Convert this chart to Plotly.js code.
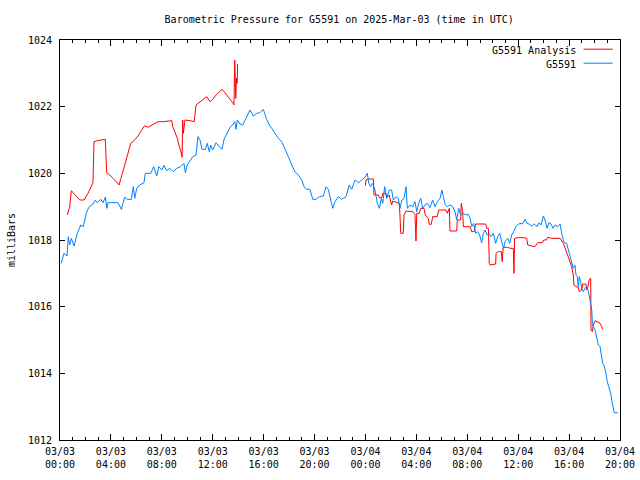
<!DOCTYPE html>
<html>
<head>
<meta charset="utf-8">
<script src="https://cdn.plot.ly/plotly-3.0.1.min.js"></script>
<style>html,body{margin:0;padding:0;background:#fff;}#chart{width:640px;height:480px;}</style>
</head>
<body>
<div id="chart"></div>
<script>
// Hours since 2025-03-03 00:00 UTC
const stationHours = [0.10,0.31,0.55,0.65,0.76,0.89,1.10,1.36,1.63,1.83,2.07,2.26,2.59,2.77,2.93,3.20,3.38,3.56,3.69,3.77,4.56,4.82,5.08,5.29,5.60,5.76,5.87,6.03,6.26,6.60,6.70,7.13,7.36,7.60,7.76,8.01,8.17,8.38,8.64,8.90,9.17,9.48,9.74,9.85,10.00,10.27,10.43,10.69,10.84,11.00,11.16,11.42,11.57,11.73,11.84,12.00,12.26,12.52,12.73,12.89,13.10,13.36,13.57,13.73,13.83,13.93,14.14,14.36,14.61,14.93,15.19,15.46,15.71,15.97,16.24,16.45,16.64,16.89,17.15,17.42,17.68,17.94,18.21,18.46,18.72,18.99,19.20,19.38,19.64,19.86,20.12,20.37,20.69,20.90,21.08,21.27,21.43,21.61,21.87,22.13,22.47,22.73,22.92,23.18,23.44,23.71,23.83,23.96,24.15,24.26,24.41,24.57,24.75,24.93,25.09,25.25,25.36,25.51,25.67,25.87,26.06,26.19,26.40,26.58,26.71,26.87,27.03,27.19,27.29,27.50,27.71,27.89,28.03,28.18,28.34,28.50,28.68,28.86,29.07,29.28,29.46,29.65,29.86,30.01,30.12,30.27,30.43,30.64,30.86,31.04,31.17,31.33,31.48,31.69,31.90,32.08,32.22,32.35,32.50,32.66,32.82,32.97,33.13,33.26,33.39,33.55,33.71,33.87,34.05,34.23,34.39,34.55,34.70,34.86,34.96,35.18,35.33,35.49,35.65,35.81,35.96,36.14,36.32,36.54,36.69,36.85,37.06,37.27,37.48,37.64,37.79,37.98,38.11,38.27,38.42,38.58,38.74,38.89,39.11,39.29,39.47,39.60,39.81,39.94,40.07,40.20,40.33,40.46,40.54,40.65,40.72,40.80,40.91,40.99,41.12,41.25,41.38,41.51,41.59,41.70,41.78,41.83,41.90,42.04,42.17,42.30,42.43,42.48,42.64,42.74,42.90,43.00,43.16,43.27,43.37,43.47,43.55,43.82];
const stationPressure = [1017.3,1017.6,1017.52,1018.1,1017.85,1018.05,1017.82,1018.2,1018.45,1018.4,1018.8,1018.98,1019.08,1019.2,1019.12,1019.22,1019.12,1019.28,1018.95,1019.12,1019.12,1018.92,1019.28,1019.22,1019.22,1019.6,1019.25,1019.55,1019.65,1019.72,1020.0,1020.0,1020.2,1019.92,1020.2,1020.1,1020.24,1020.08,1020.15,1020.05,1020.15,1020.2,1020.3,1020.02,1020.25,1020.4,1020.5,1020.55,1021.1,1021.0,1020.72,1020.72,1020.9,1020.65,1020.85,1020.7,1020.92,1020.8,1020.72,1021.02,1021.2,1021.38,1021.45,1021.55,1021.32,1021.6,1021.48,1021.45,1021.65,1021.9,1021.72,1021.8,1021.82,1021.92,1021.62,1021.45,1021.35,1021.2,1021.05,1020.95,1020.75,1020.5,1020.25,1020.05,1019.95,1019.8,1019.58,1019.52,1019.52,1019.22,1019.22,1019.3,1019.32,1019.6,1019.52,1019.25,1018.95,1019.15,1019.3,1019.22,1019.3,1019.65,1019.52,1019.8,1019.72,1019.8,1019.85,1019.88,1020.0,1019.7,1019.6,1019.7,1019.5,1019.1,1018.95,1019.25,1019.1,1019.6,1019.25,1019.5,1019.5,1019.2,1019.3,1019.25,1018.95,1019.2,1019.25,1019.6,1018.95,1019.05,1019.0,1019.15,1018.85,1019.1,1019.25,1018.95,1019.05,1019.1,1018.97,1019.2,1019.0,1019.15,1019.25,1019.5,1019.3,1019.05,1019.0,1019.05,1019.0,1018.85,1018.6,1018.95,1018.75,1018.8,1018.75,1018.77,1018.65,1018.4,1018.5,1018.2,1018.25,1018.15,1017.92,1018.2,1018.3,1018.15,1018.2,1018.1,1018.2,1017.9,1018.1,1018.2,1017.95,1017.75,1017.95,1018.05,1017.9,1018.15,1018.25,1018.4,1018.45,1018.5,1018.48,1018.62,1018.5,1018.48,1018.42,1018.48,1018.4,1018.52,1018.45,1018.72,1018.6,1018.35,1018.52,1018.48,1018.35,1018.45,1018.4,1018.48,1018.1,1017.92,1017.9,1017.7,1017.5,1017.3,1017.15,1017.25,1016.95,1016.9,1016.6,1016.9,1016.75,1016.55,1016.45,1016.55,1016.6,1016.48,1016.3,1016.15,1015.9,1015.5,1015.4,1015.3,1015.1,1014.85,1014.8,1014.65,1014.3,1014.25,1014.0,1013.75,1013.55,1013.4,1013.15,1013.0,1012.82,1012.82];

const analysisHours = [0.57,0.76,0.89,1.28,1.55,1.89,2.20,2.59,2.67,2.93,3.25,3.56,3.67,3.91,4.30,4.64,4.77,5.03,5.34,5.56,5.81,6.13,6.39,6.66,6.91,7.44,7.70,8.12,8.51,8.78,8.86,9.04,9.22,9.37,9.51,9.59,9.64,9.69,9.74,9.82,10.21,10.55,10.69,10.95,11.26,11.53,11.79,12.00,12.26,12.57,12.73,12.89,13.22,13.57,13.67,13.73,13.81,13.86,13.92,13.96,
  null,
  23.99,24.04,24.22,24.62,24.67,25.01,25.09,25.28,25.36,25.61,25.67,25.87,25.98,26.06,26.14,26.50,26.66,26.71,26.77,26.97,27.03,27.19,27.63,27.71,27.89,27.97,28.03,28.23,28.34,28.60,28.70,28.94,29.02,29.17,29.28,29.64,29.75,30.33,30.43,30.59,30.64,31.17,31.22,31.48,31.53,31.64,31.69,32.22,32.35,32.55,32.66,33.45,33.53,33.66,33.73,33.79,34.23,34.26,34.44,34.67,34.75,34.82,35.17,35.36,35.62,35.67,35.72,36.01,36.40,36.67,36.75,37.01,37.32,37.53,37.90,38.01,38.21,38.32,38.63,38.89,39.29,39.55,39.76,40.02,40.20,40.33,40.38,40.54,40.72,40.80,40.99,41.07,41.33,41.38,41.48,41.59,41.70,41.72,41.83,41.90,42.04,42.17,42.43,42.56,42.64];
const analysisPressure = [1018.75,1019.0,1019.48,1019.32,1019.2,1019.2,1019.4,1019.72,1020.95,1020.98,1021.0,1021.02,1020.02,1019.95,1019.8,1019.65,1019.82,1020.2,1020.6,1020.9,1020.98,1021.12,1021.28,1021.43,1021.38,1021.48,1021.55,1021.55,1021.58,1021.58,1021.4,1021.25,1021.05,1020.8,1020.65,1020.48,1021.6,1021.2,1021.38,1021.6,1021.58,1021.55,1022.05,1022.12,1022.2,1022.3,1022.15,1022.22,1022.35,1022.48,1022.52,1022.45,1022.3,1022.12,1022.05,1023.4,1022.25,1022.85,1022.7,1023.28,
  null,
  1019.63,1019.8,1019.83,1019.83,1019.35,1019.35,1019.27,1019.27,1019.4,1019.4,1019.27,1019.35,1019.17,1019.05,1019.17,1019.13,1019.1,1018.75,1018.2,1018.2,1018.75,1018.87,1018.87,1018.85,1018.77,1017.97,1018.8,1018.8,1018.95,1018.95,1018.75,1018.65,1018.47,1018.47,1018.7,1018.7,1018.9,1018.9,1018.8,1018.95,1018.27,1018.27,1018.6,1018.6,1019.1,1018.85,1018.4,1018.4,1018.25,1018.25,1018.48,1018.48,1018.35,1018.35,1017.3,1017.25,1017.28,1017.6,1017.65,1017.65,1017.35,1017.78,1017.78,1017.75,1017.75,1017.0,1018.05,1018.07,1018.07,1018.05,1017.85,1017.82,1017.8,1017.92,1017.92,1018.0,1018.0,1018.08,1018.05,1018.05,1018.05,1017.9,1017.7,1017.4,1017.2,1016.95,1016.65,1016.6,1016.58,1016.45,1016.5,1016.68,1016.68,1016.5,1016.6,1016.82,1016.85,1015.3,1015.25,1015.45,1015.58,1015.55,1015.5,1015.4,1015.32];

const tickHours = [0,4,8,12,16,20,24,28,32,36,40,44];
const tickDates = ['03/03','03/03','03/03','03/03','03/03','03/03','03/04','03/04','03/04','03/04','03/04','03/04'];
const tickTimes = ['00:00','04:00','08:00','12:00','16:00','20:00','00:00','04:00','08:00','12:00','16:00','20:00'];
const yTicks = [1012,1014,1016,1018,1020,1022,1024];
const seriesNames = ['G5591 Analysis','G5591'];
const seriesColors = ['#ff0000','#0080ff'];

const FONT = 'DejaVu Sans Mono, monospace';

const traces = [
  {x: analysisHours, y: analysisPressure, name: seriesNames[0], type: 'scatter', mode: 'lines',
   line: {color: seriesColors[0], width: 1}, connectgaps: false, showlegend: false},
  {x: stationHours, y: stationPressure, name: seriesNames[1], type: 'scatter', mode: 'lines',
   line: {color: seriesColors[1], width: 1}, showlegend: false}
];

const legendY = [0.973, 0.938];
const annotations = [];
const shapes = [];
seriesNames.forEach((n, i) => {
  annotations.push({xref: 'paper', yref: 'paper', x: 0.925, y: legendY[i], xanchor: 'right', yanchor: 'middle',
    text: n, showarrow: false, font: {family: FONT, size: 10, color: '#000'}});
  shapes.push({type: 'line', xref: 'paper', yref: 'paper', x0: 0.935, x1: 0.987, y0: legendY[i] + 0.004, y1: legendY[i] + 0.004,
    line: {color: seriesColors[i], width: 1}});
});

const layout = {
  width: 640, height: 480,
  margin: {l: 60, r: 20, t: 40, b: 40},
  paper_bgcolor: '#fff', plot_bgcolor: '#fff',
  font: {family: FONT, size: 10, color: '#000'},
  title: {text: 'Barometric Pressure for G5591 on 2025-Mar-03 (time in UTC)', x: 0.53, xanchor: 'center',
          y: 0.96, yanchor: 'middle', font: {family: FONT, size: 10, color: '#000'}},
  xaxis: {
    range: [0, 44], showgrid: false, zeroline: false,
    showline: true, linecolor: '#000', linewidth: 1, mirror: 'ticks',
    ticks: 'inside', ticklen: 6, tickcolor: '#000', tickwidth: 1,
    tickvals: tickHours, ticktext: tickHours.map((h, i) => tickDates[i] + '<br>' + tickTimes[i]),
    tickfont: {family: FONT, size: 10, color: '#000'},
    minor: {dtick: 1, ticks: 'inside', ticklen: 3, tickcolor: '#000', showgrid: false},
    ticklabelstandoff: 2, fixedrange: true
  },
  yaxis: {
    range: [1012, 1024], showgrid: false, zeroline: false,
    showline: true, linecolor: '#000', linewidth: 1, mirror: 'ticks',
    ticks: 'inside', ticklen: 5, tickcolor: '#000', tickwidth: 1,
    tickvals: yTicks, ticktext: yTicks.map(String),
    tickfont: {family: FONT, size: 10, color: '#000'},
    ticklabelstandoff: 5,
    title: {text: 'milliBars', font: {family: FONT, size: 10, color: '#000'}, standoff: 10},
    fixedrange: true
  },
  annotations: annotations,
  shapes: shapes
};

Plotly.newPlot('chart', traces, layout, {staticPlot: true, displayModeBar: false});
</script>
</body>
</html>
